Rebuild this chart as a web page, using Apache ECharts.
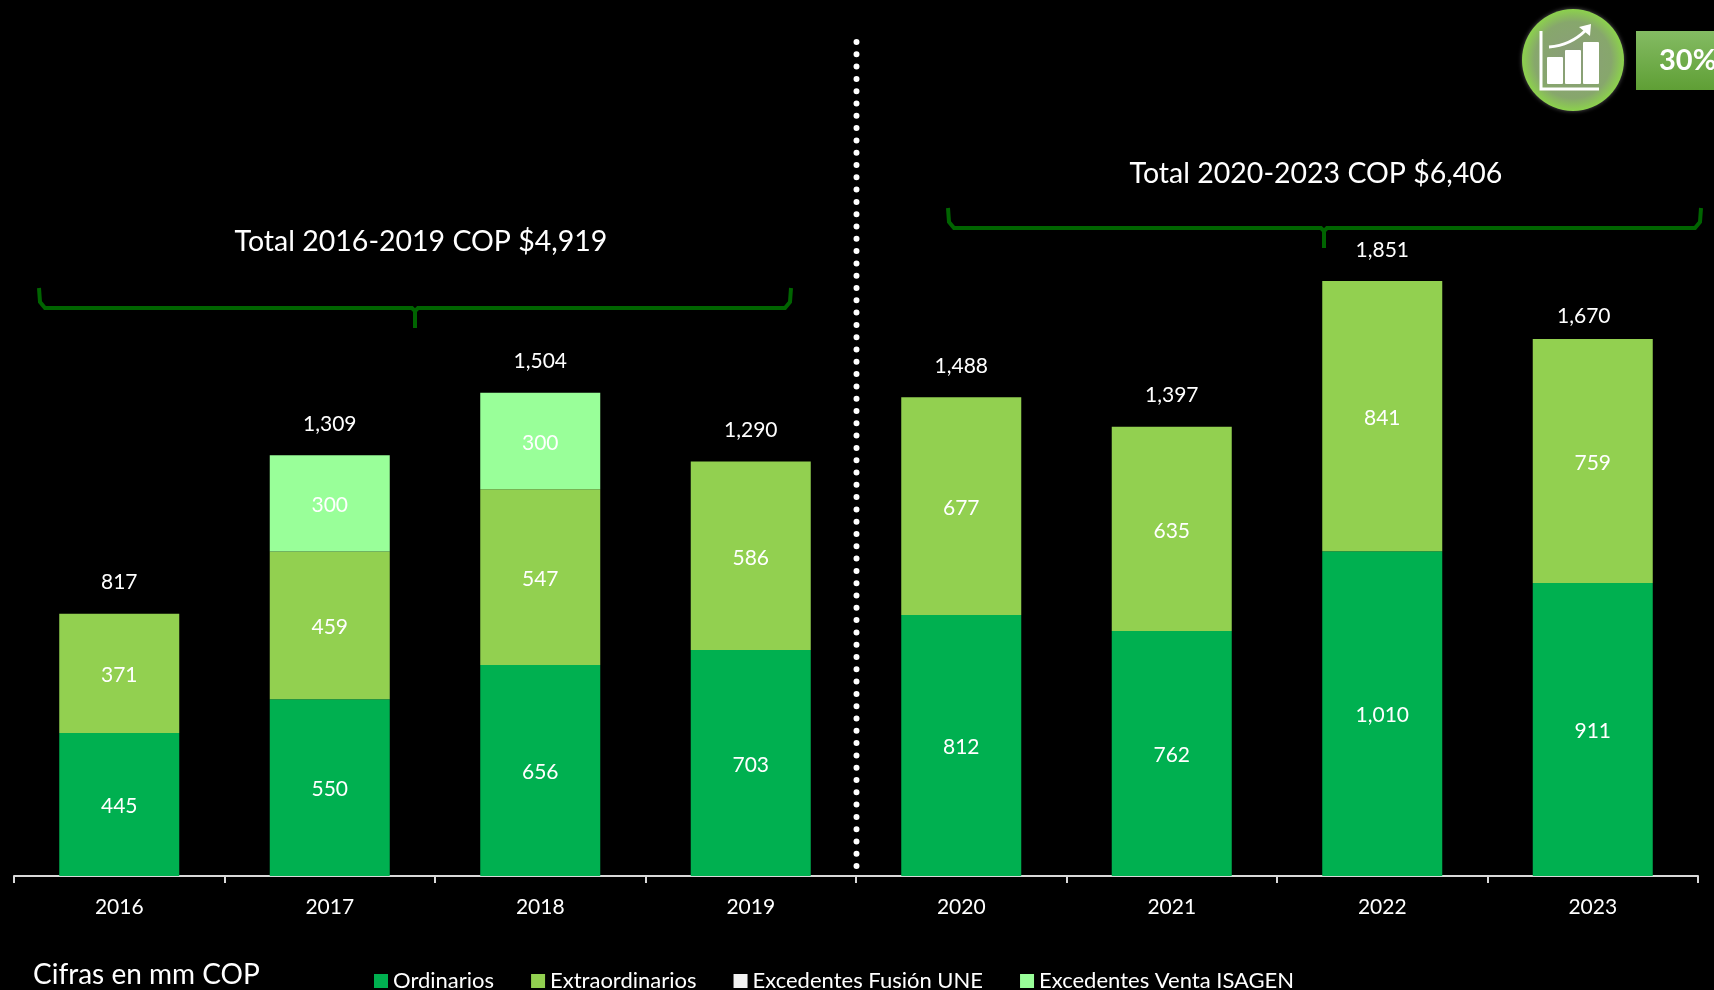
<!DOCTYPE html>
<html>
<head>
<meta charset="utf-8">
<style>
  html, body { margin: 0; padding: 0; background: #000; overflow: hidden; }
  #chart { width: 1714px; height: 990px; }
</style>
<script src="https://cdn.jsdelivr.net/npm/echarts@6/dist/echarts.min.js"></script>
</head>
<body>
<div id="chart"></div>
<script>
const YEARS = ["2016", "2017", "2018", "2019", "2020", "2021", "2022", "2023"];
const ORDINARIOS = [445, 550, 656, 703, 812, 762, 1010, 911];
const EXTRAORDINARIOS = [371, 459, 547, 586, 677, 635, 841, 759];
const FUSION_UNE = [null, null, null, null, null, null, null, null];
const VENTA_ISAGEN = [null, 300, 300, null, null, null, null, null];
const TOTALES = [817, 1309, 1504, 1290, 1488, 1397, 1851, 1670];

const FONT = "Lato, sans-serif";
const fmt = (v) => v.toLocaleString("en-US");

const chart = echarts.init(document.getElementById("chart"));

function barSerie(name, data, color) {
    return {
        name,
        type: "bar",
        stack: "total",
        barWidth: 120,
        data,
        itemStyle: { color },
        label: {
            show: true,
            position: "inside",
            offset: [0, 2],
            color: "#fff",
            fontFamily: FONT,
            fontSize: 21,
            formatter: (p) => fmt(p.value)
        }
    };
}

// llave de los totales
function bracket(x1, x2, xm, y0, y1, y2) {
    return {
        type: "polyline",
        shape: { points: [[x1, y0], [x1 + 1, y1 - 6], [x1 + 6, y1], [xm - 3, y1], [xm, y1 + 3], [xm, y2]] },
        style: { stroke: "#006400", lineWidth: 4, fill: null }
    };
}

function bracketRight(x2, xm, y0, y1) {
    return {
        type: "polyline",
        shape: { points: [[xm, y1 + 3], [xm + 3, y1], [x2 - 6, y1], [x2 - 1, y1 - 6], [x2, y0]] },
        style: { stroke: "#006400", lineWidth: 4, fill: null }
    };
}

function txt(text, x, y, size, align) {
    return {
        type: "text",
        x, y,
        style: { text, fill: "#fff", font: size + "px " + FONT, align: align || "center", verticalAlign: "middle" }
    };
}

const icono = [
    // circulo verde
    {
        type: "circle",
        shape: { cx: 1573, cy: 60, r: 51 },
        style: {
            fill: new echarts.graphic.RadialGradient(0.5, 0.5, 0.5, [
                { offset: 0, color: "#8b9c7c" },
                { offset: 0.75, color: "#87a76c" },
                { offset: 1, color: "#8cd24c" }
            ]),
            shadowBlur: 4,
            shadowColor: "rgba(255,255,255,0.35)"
        }
    },
    { type: "polyline", shape: { points: [[1541, 31], [1541, 89], [1599, 89]] }, style: { stroke: "#fff", lineWidth: 3, fill: null } },
    { type: "rect", shape: { x: 1547, y: 57, width: 16, height: 27, r: 1 }, style: { fill: "#fff" } },
    { type: "rect", shape: { x: 1565, y: 50, width: 16, height: 34, r: 1 }, style: { fill: "#fff" } },
    { type: "rect", shape: { x: 1583, y: 42, width: 16, height: 42, r: 1 }, style: { fill: "#fff" } },
    { type: "bezierCurve", shape: { x1: 1549, y1: 47, cpx1: 1563, cpy1: 46, cpx2: 1575, cpy2: 41, x2: 1586, y2: 30 }, style: { stroke: "#fff", lineWidth: 3, fill: null } },
    { type: "polygon", shape: { points: [[1579, 27], [1591, 24], [1590, 36]] }, style: { fill: "#fff" } },
    // caja 30%
    {
        type: "rect",
        shape: { x: 1636, y: 31, width: 78, height: 59 },
        style: {
            fill: new echarts.graphic.LinearGradient(0, 0, 0, 1, [
                { offset: 0, color: "#84bb63" },
                { offset: 1, color: "#5f9f35" }
            ])
        }
    },
    {
        type: "text",
        x: 1659, y: 61,
        style: { text: "30%", fill: "#fff", font: "bold 29px " + FONT, align: "left", verticalAlign: "middle" }
    }
];

chart.setOption({
    backgroundColor: "#000",
    animation: false,
    grid: { left: 14, width: 1684, top: 233, height: 643 },
    legend: {
        left: 369,
        top: 965,
        icon: "rect",
        itemWidth: 14,
        itemHeight: 14,
        itemGap: 37,
        data: ["Ordinarios", "Extraordinarios", "Excedentes Fusión UNE", "Excedentes Venta ISAGEN"],
        textStyle: { color: "#fff", fontFamily: FONT, fontSize: 22 }
    },
    xAxis: {
        type: "category",
        data: YEARS,
        axisLine: { lineStyle: { color: "#d9d9d9", width: 2 } },
        axisTick: { show: true, length: 7, lineStyle: { color: "#d9d9d9", width: 2 } },
        axisLabel: { color: "#fff", fontFamily: FONT, fontSize: 21, margin: 21 }
    },
    yAxis: { type: "value", min: 0, max: 2000, show: false },
    series: [
        barSerie("Ordinarios", ORDINARIOS, "#00B050"),
        barSerie("Extraordinarios", EXTRAORDINARIOS, "#92D050"),
        barSerie("Excedentes Fusión UNE", FUSION_UNE, "#F2F2F2"),
        barSerie("Excedentes Venta ISAGEN", VENTA_ISAGEN, "#99FF99"),
        {
            name: "Total",
            type: "scatter",
            data: TOTALES.map((v, i) => ({
                value: v,
                label: i === 7 ? { offset: [-9, 8] } : i === 5 ? { offset: [0, -1] } : {}
            })),
            symbolSize: 1,
            itemStyle: { color: "transparent", opacity: 1 },
            label: {
                show: true,
                position: "top",
                distance: 20,
                color: "#fff",
                fontFamily: FONT,
                fontSize: 21,
                formatter: (p) => fmt(p.value)
            },
            z: 5
        }
    ],
    graphic: [
        {
            type: "line",
            shape: { x1: 856.5, y1: 42, x2: 856.5, y2: 878 },
            style: { stroke: "#fff", lineWidth: 6, lineCap: "round", lineDash: [0, 12.3] },
            z: 10
        },
        bracket(39, 791, 415, 288, 308, 328),
        bracketRight(791, 415, 288, 308),
        bracket(948, 1701, 1324, 208, 228, 248),
        bracketRight(1701, 1324, 208, 228),
        txt("Total 2016-2019 COP $4,919", 421, 242, 28.5),
        txt("Total 2020-2023 COP $6,406", 1316, 174, 28.5),
        txt("Cifras en mm COP", 33, 975, 28, "left"),
        ...icono
    ]
});
</script>
</body>
</html>
